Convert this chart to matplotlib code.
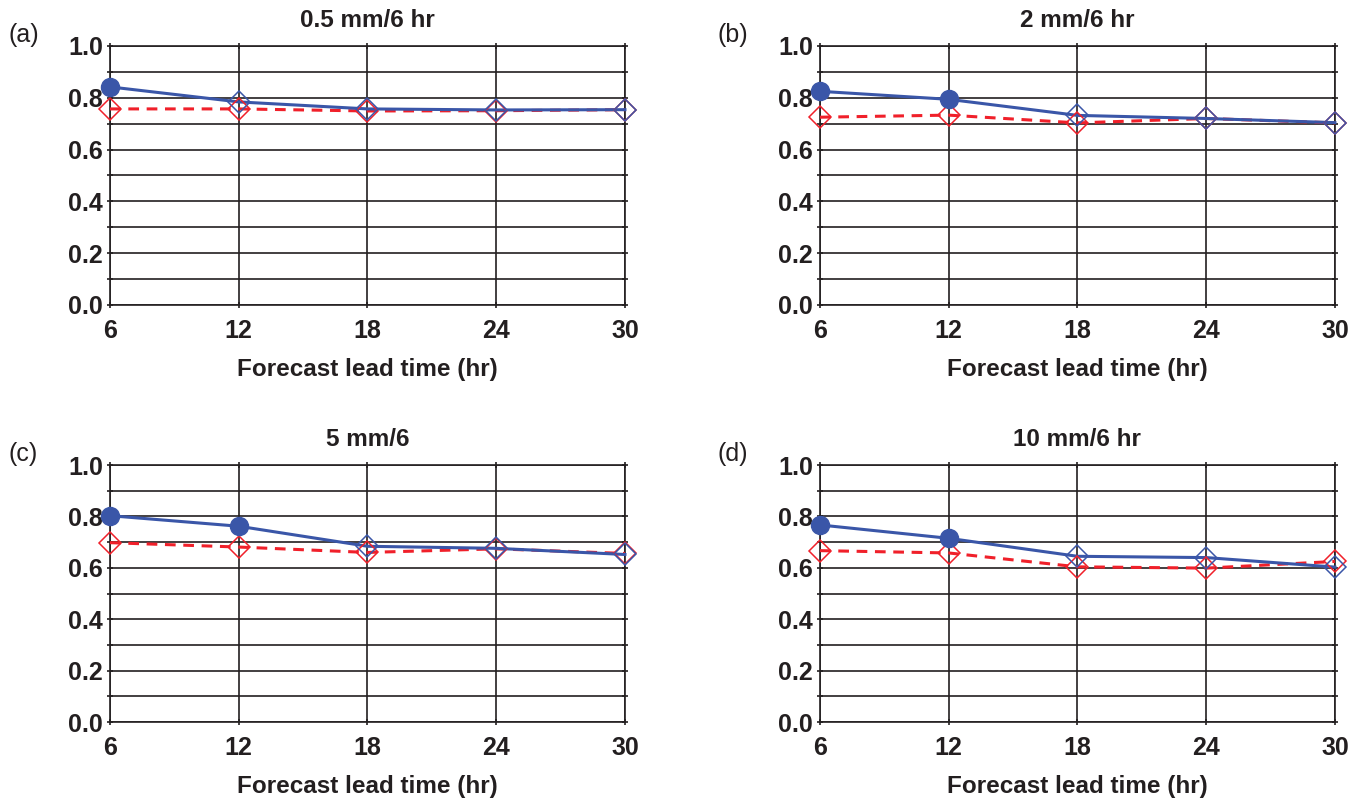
import matplotlib.pyplot as plt
import numpy as np

plt.rcParams['font.family'] = ['Liberation Sans', 'DejaVu Sans']

lead = [6, 12, 18, 24, 30]
titles = ['0.5 mm/6 hr', '2 mm/6 hr', '5 mm/6', '10 mm/6 hr']
tags = ['(a)', '(b)', '(c)', '(d)']

blue_a = [0.842, 0.784, 0.757, 0.753, 0.754]
red_a = [0.757, 0.757, 0.749, 0.750, 0.754]
blue_b = [0.825, 0.794, 0.732, 0.720, 0.704]
red_b = [0.725, 0.733, 0.703, 0.720, 0.703]
blue_c = [0.803, 0.762, 0.684, 0.676, 0.652]
red_c = [0.698, 0.681, 0.660, 0.674, 0.656]
blue_d = [0.767, 0.715, 0.645, 0.640, 0.603]
red_d = [0.667, 0.658, 0.604, 0.599, 0.625]
# blue markers filled where the difference is significant
filled_a = [True, False, False, False, False]
filled_b = [True, True, False, False, False]
filled_c = [True, True, False, False, False]
filled_d = [True, True, False, False, False]

blues = [blue_a, blue_b, blue_c, blue_d]
reds = [red_a, red_b, red_c, red_d]
filled = [filled_a, filled_b, filled_c, filled_d]

BLUE = '#3a56a8'
RED = '#f0202a'
INK = '#231f20'

fig = plt.figure(figsize=(13.58, 7.98), dpi=100)
boxes = [(0.081, 0.6178, 0.3792, 0.3246),
         (0.6038, 0.6178, 0.3792, 0.3246),
         (0.081, 0.0952, 0.3792, 0.3220),
         (0.6038, 0.0952, 0.3792, 0.3220)]

for i, box in enumerate(boxes):
    ax = fig.add_axes(box)
    x = np.array(lead)
    b = np.array(blues[i])
    r = np.array(reds[i])
    f = np.array(filled[i])

    ax.plot(x, r, color=RED, lw=2.2, ls=(0, (3.5, 2.5)), zorder=3,
            clip_on=False)
    ax.plot(x, r, ls='none', marker='D', ms=11, mfc='none', mec=RED,
            mew=1.1, zorder=4, clip_on=False)
    ax.plot(x, b, color=BLUE, lw=2.2, zorder=3, clip_on=False)
    ax.plot(x[~f], b[~f], ls='none', marker='D', ms=11, mfc='none',
            mec=BLUE, mew=1.1, zorder=4, clip_on=False)
    ax.plot(x[f], b[f], ls='none', marker='o', ms=13, mfc=BLUE, mec=BLUE,
            zorder=5, clip_on=False)

    ax.set_xlim(6, 30)
    ax.set_ylim(0, 1.0)
    ax.set_xticks(lead)
    ax.set_yticks(np.arange(0, 1.01, 0.2))
    ax.set_yticks(np.arange(0.1, 1.0, 0.2), minor=True)
    ax.set_yticklabels(['%.1f' % v for v in np.arange(0, 1.01, 0.2)])
    ax.grid(True, which='both', color=INK, lw=1.2)
    ax.set_axisbelow(True)
    for s in ax.spines.values():
        s.set_color(INK)
        s.set_linewidth(1.2)
    ax.tick_params(which='both', direction='inout', length=4, width=1.2,
                   color=INK, right=True, top=True,
                   labelsize=18, labelcolor=INK, pad=3)
    ax.tick_params(axis='x', pad=8)
    for lab in ax.get_xticklabels() + ax.get_yticklabels():
        lab.set_fontweight('bold')

    ax.set_title(titles[i], fontsize=17.5, fontweight='bold', color=INK,
                 pad=14)
    ax.set_xlabel('Forecast lead time (hr)', fontsize=17.5, fontweight='bold',
                  color=INK, labelpad=11)
    ax.text(-0.198, 1.042, tags[i], transform=ax.transAxes, fontsize=18,
            color=INK, ha='left', va='center')

fig.savefig('out.png', dpi=100)
